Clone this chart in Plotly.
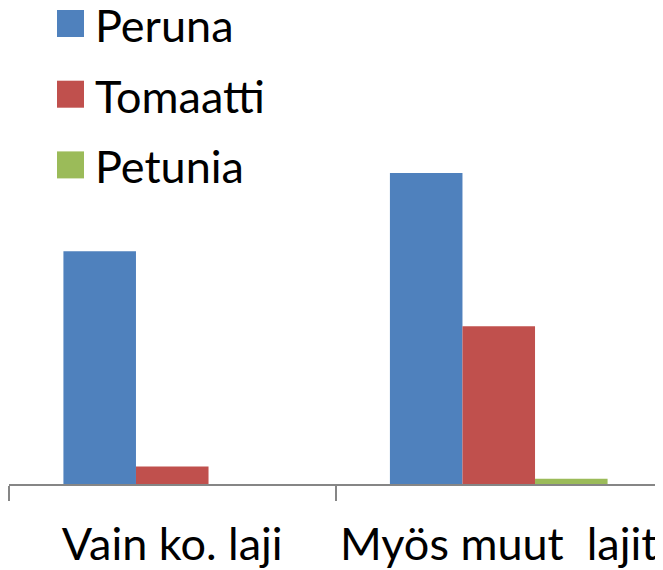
"""Grouped bar chart: Peruna / Tomaatti / Petunia by category."""

import plotly.graph_objects as go

# ── Data ─────────────────────────────────────────────────────────────────────

CATEGORIES = ["Vain ko. laji", "Myös muut  lajit"]
SERIES_NAMES = ["Peruna", "Tomaatti", "Petunia"]
PERUNA = [74.8, 100.0]
TOMAATTI = [5.6, 50.7]
PETUNIA = [0.0, 1.7]

# ── Style ────────────────────────────────────────────────────────────────────

COLORS = ["#4F81BD", "#C0504D", "#9BBB59"]
AXIS_COLOR = "#868686"
FONT = "Lato, 'Open Sans', sans-serif"

# page body has an 8px default margin, so the figure is shrunk to fit
OFFSET = 8
W, H = 663 - OFFSET, 570 - OFFSET
MARGIN = dict(l=1, r=1, t=165, b=86)
PLOT_W = W - MARGIN["l"] - MARGIN["r"]
PLOT_H = H - MARGIN["t"] - MARGIN["b"]


def px_to_paper(x, y):
    """Page pixel position -> paper coordinates."""
    x, y = x - OFFSET, y - OFFSET
    return (x - MARGIN["l"]) / PLOT_W, (H - MARGIN["b"] - y) / PLOT_H


fig = go.Figure()
for name, values, color in zip(SERIES_NAMES, [PERUNA, TOMAATTI, PETUNIA], COLORS):
    fig.add_trace(go.Bar(
        name=name, x=CATEGORIES, y=values,
        marker_color=color, marker_line_width=0,
        showlegend=False,
    ))

# custom legend with large square swatches
for i, (name, color) in enumerate(zip(SERIES_NAMES, COLORS)):
    top = 10 + i * 70.7
    x0, y0 = px_to_paper(57, top + 27)
    x1, y1 = px_to_paper(84, top)
    fig.add_shape(type="rect", xref="paper", yref="paper",
                  x0=x0, x1=x1, y0=y0, y1=y1,
                  fillcolor=color, line_width=0)
    tx, ty = px_to_paper(93, top + 15)
    fig.add_annotation(xref="paper", yref="paper", x=tx, y=ty,
                       xanchor="left", yanchor="middle", showarrow=False,
                       text=name, font=dict(size=45, color="black", family=FONT))

fig.update_layout(
    width=W, height=H,
    margin=MARGIN,
    barmode="group",
    bargap=1 / 3,
    bargroupgap=0,
    plot_bgcolor="white",
    paper_bgcolor="white",
    font=dict(family=FONT, color="black"),
    xaxis=dict(
        showline=True, linecolor=AXIS_COLOR, linewidth=2,
        ticks="outside", tickson="boundaries", ticklen=15,
        tickcolor=AXIS_COLOR, tickwidth=2,
        tickfont=dict(size=45, color="black"),
        tickangle=0, automargin=False,
        ticklabelstandoff=20,
        showgrid=False, zeroline=False,
    ),
    yaxis=dict(
        range=[0, 100], visible=False, automargin=False,
        showgrid=False, zeroline=False,
    ),
)

fig.write_html("out.html")
